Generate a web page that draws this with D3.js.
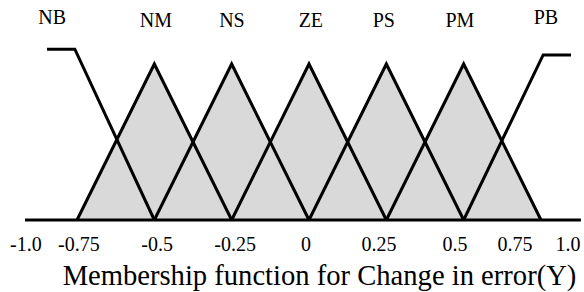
<!DOCTYPE html>
<html>
<head>
<meta charset="utf-8">
<script src="https://cdn.jsdelivr.net/npm/d3@7"></script>
<style>
  html, body { margin: 0; padding: 0; background: #fff; }
  svg { display: block; }
</style>
</head>
<body>
<svg id="chart" width="584" height="292"></svg>
<script>
// ---- data ----
const setNames = ["NB", "NM", "NS", "ZE", "PS", "PM", "PB"];
const setLabelX = [-0.83, -0.495, -0.249, 0.006, 0.242, 0.488, 0.766];

// triangular sets NM..PM
const triNames = ["NM", "NS", "ZE", "PS", "PM"];
const triLeft  = [-0.75, -0.5, -0.25, 0.0, 0.25];
const triPeak  = [-0.5, -0.25, 0.0, 0.25, 0.5];
const triRight = [-0.25, 0.0, 0.25, 0.5, 0.75];

// shoulder sets
const nbX  = [-0.847, -0.757, -0.5];
const nbMu = [1.095, 1.095, 0];
const pbX  = [0.5, 0.757, 0.847];
const pbMu = [0, 1.058, 1.058];

// universe line
const axisMin = -0.918, axisMax = 0.879;

// tick labels
const tickLabels = ["-1.0", "-0.75", "-0.5", "-0.25", "0", "0.25", "0.5", "0.75", "1.0"];
const tickLabelX = [-0.915, -0.744, -0.491, -0.239, -0.01, 0.226, 0.472, 0.666, 0.837];

const title = "Membership function for Change in error(Y)";

// ---- drawing ----
const FONT = "'Liberation Serif', 'Times New Roman', 'DejaVu Serif', serif";
const svg = d3.select("#chart");
const x = d3.scaleLinear().domain([-0.75, 0.75]).range([77, 541]);
const y = d3.scaleLinear().domain([0, 1]).range([220, 64]);
const line = d3.line().x(d => x(d[0])).y(d => y(d[1]));

const tris = triNames.map((n, i) => [[triLeft[i], 0], [triPeak[i], 1], [triRight[i], 0]]);

// fills
svg.append("g").selectAll("path").data(tris).join("path")
  .attr("d", d => line(d) + "Z")
  .attr("fill", "#d9d9d9")
  .attr("stroke", "none");

// baseline
svg.append("path")
  .attr("d", line([[axisMin, 0], [axisMax, 0]]))
  .attr("stroke", "#000").attr("stroke-width", 3.2).attr("fill", "none");

// triangle outlines
svg.append("g").selectAll("path").data(tris).join("path")
  .attr("d", d => line(d))
  .attr("fill", "none")
  .attr("stroke", "#000")
  .attr("stroke-width", 3)
  .attr("stroke-linejoin", "miter");

// shoulders
[[nbX, nbMu], [pbX, pbMu]].forEach(([xs, ms]) => {
  svg.append("path")
    .attr("d", line(xs.map((v, i) => [v, ms[i]])))
    .attr("fill", "none")
    .attr("stroke", "#000")
    .attr("stroke-width", 3)
    .attr("stroke-linejoin", "miter");
});

// set labels
svg.append("g").selectAll("text").data(setNames).join("text")
  .attr("x", (d, i) => x(setLabelX[i]))
  .attr("y", (d, i) => (d === "NB" || d === "PB") ? 23.5 : 26.5)
  .attr("text-anchor", "middle")
  .attr("font-family", FONT)
  .attr("font-size", 20)
  .attr("fill", "#000")
  .text(d => d);

// tick labels
svg.append("g").selectAll("text").data(tickLabels).join("text")
  .attr("x", (d, i) => x(tickLabelX[i]))
  .attr("y", 251)
  .attr("text-anchor", "middle")
  .attr("font-family", FONT)
  .attr("font-size", 20)
  .attr("fill", "#000")
  .text(d => d);

// title
svg.append("text")
  .attr("x", 319.5)
  .attr("y", 285)
  .attr("text-anchor", "middle")
  .attr("font-family", FONT)
  .attr("font-size", 28.6)
  .attr("fill", "#000")
  .text(title);
</script>
</body>
</html>
